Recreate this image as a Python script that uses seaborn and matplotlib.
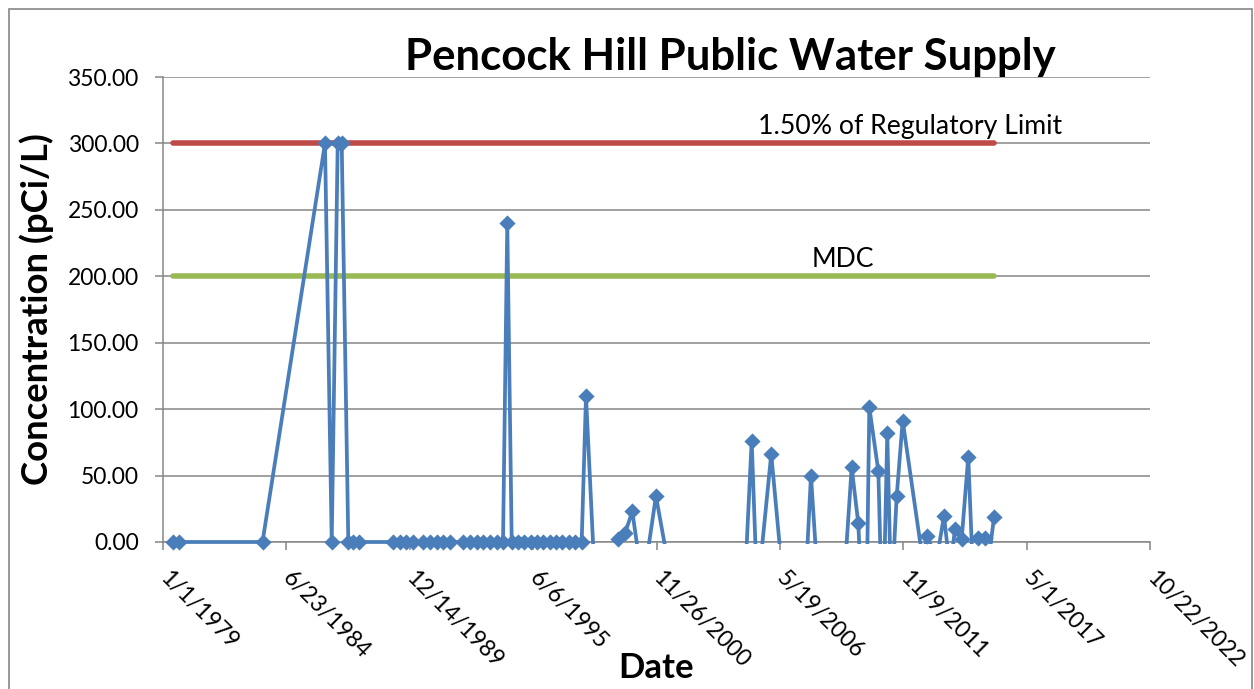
import matplotlib
matplotlib.use("Agg")
import matplotlib.pyplot as plt
import seaborn as sns
import pandas as pd
import numpy as np
from matplotlib.patches import Rectangle
from matplotlib.ticker import FormatStrFormatter

# Sample dates and measured concentrations (pCi/L)
sample_dates = [
    "1979-06-07", "1979-09-22", "1983-06-02", "1986-03-11", "1986-06-28",
    "1986-10-03", "1986-12-07", "1987-03-24", "1987-06-13", "1987-09-18",
    "1989-03-18", "1989-07-01", "1989-10-14", "1990-01-31", "1990-07-22",
    "1990-11-07", "1991-02-24", "1991-06-11", "1991-09-28", "1992-04-30",
    "1992-08-17", "1992-12-03", "1993-03-20", "1993-07-07", "1993-10-23",
    "1994-02-03", "1994-04-13", "1994-06-24", "1994-10-04", "1995-01-17",
    "1995-05-03", "1995-08-08", "1995-11-21", "1996-03-06", "1996-06-11",
    "1996-09-24", "1997-01-08", "1997-04-15", "1997-08-01", "1997-10-10",
    "1998-03-29", "1999-03-18", "1999-07-04", "1999-10-31", "2000-04-19",
    "2000-11-17", "2001-07-03", "2002-05-23", "2003-05-15", "2004-09-28",
    "2005-02-16", "2005-05-17", "2005-12-30", "2006-07-09", "2007-06-30",
    "2007-10-05", "2008-02-12", "2009-03-07", "2009-07-26", "2009-11-10",
    "2009-12-24", "2010-03-31", "2010-05-08", "2010-10-01", "2010-11-22",
    "2011-01-01", "2011-02-23", "2011-04-29", "2011-07-26", "2011-10-31",
    "2012-09-24", "2012-11-23", "2013-05-09", "2013-08-30", "2013-12-05",
    "2014-02-25", "2014-06-13", "2014-09-28", "2014-12-30", "2015-03-09",
    "2015-06-26", "2015-08-22", "2015-11-19",
]
concentrations = [
    0, 0, 0, 300, 0,
    300, 300, 0, 0, 0,
    0, 0, 0, 0, 0,
    0, 0, 0, 0, 0,
    0, 0, 0, 0, 0,
    0, 240, 0, 0, 0,
    0, 0, 0, 0, 0,
    0, 0, 0, 0, 110,
    -55, 2.3, 6.5, 23, -33,
    34.6, -24, -35, -18, -60,
    76.3, -40, 66.2, -30, -40,
    50, -43, -42, 56.2, 14,
    -30, -25, 101.4, 53.4, -40,
    -30, 81.8, -45, 34.6, 91.3,
    -15, 4.5, -12, 19.6, -20,
    9.5, 2, 64.2, -45, 2.8,
    2.8, -15, 18.6,
]

# Reference levels drawn over the sampling period
reg_limit = [300, 300]
mdc_level = [200, 200]
reg_label = "1.50% of Regulatory Limit"
mdc_label = "MDC"

# Date axis ticks: every 2000 days from 1/1/1979
tick_dates = pd.date_range("1979-01-01", periods=9, freq="2000D")
tick_labels = [f"{d.month}/{d.day}/{d.year}" for d in tick_dates]
y_ticks = np.arange(0, 351, 50)

BLUE = "#4A7EBB"
RED = "#BE4B48"
GREEN = "#98B954"
GRID = "#868686"

sns.set_theme(style="white")
plt.rcParams["font.family"] = ["Lato", "DejaVu Sans"]
plt.rcParams["text.color"] = "black"
plt.rcParams["axes.labelcolor"] = "black"

W, H = 1254, 689
fig = plt.figure(figsize=(W / 100, H / 100), dpi=100)
ax = fig.add_axes([163 / W, 1 - 542 / H, 987 / W, 465 / H])

df = pd.DataFrame({"Date": pd.to_datetime(sample_dates),
                   "Concentration": concentrations})
span = pd.to_datetime([sample_dates[0], sample_dates[-1]])
levels = pd.DataFrame({"Date": span, "Limit": reg_limit, "MDC": mdc_level})

# Reference level lines
sns.lineplot(data=levels, x="Date", y="Limit", color=RED, lw=4.0, ax=ax,
             zorder=3, solid_capstyle="round")
sns.lineplot(data=levels, x="Date", y="MDC", color=GREEN, lw=4.0, ax=ax,
             zorder=3, solid_capstyle="round")

# Measurement series: line clipped just below the zero axis
sns.lineplot(data=df, x="Date", y="Concentration", color=BLUE, lw=2.7,
             ax=ax, zorder=4, estimator=None, sort=False)
series_line = ax.lines[-1]
series_line.set_clip_path(Rectangle((0, -0.004), 1, 1.004,
                                    transform=ax.transAxes))

visible = df[df["Concentration"] >= 0]
sns.scatterplot(data=visible, x="Date", y="Concentration", marker="D", s=68,
                color=BLUE, edgecolor=BLUE, linewidth=0, ax=ax, zorder=5,
                clip_on=False)

# Level labels
ax.annotate(reg_label, xy=(pd.Timestamp("2012-02-27"), reg_limit[0]),
            xytext=(0, 3), textcoords="offset points", ha="center",
            va="bottom", fontsize=19.2)
ax.annotate(mdc_label, xy=(pd.Timestamp("2009-03-07"), mdc_level[0]),
            xytext=(0, 3), textcoords="offset points", ha="center",
            va="bottom", fontsize=19.2)

# Axes styling
ax.set_xlim(tick_dates[0], tick_dates[-1])
ax.set_ylim(0, 350)
ax.set_yticks(y_ticks)
ax.yaxis.set_major_formatter(FormatStrFormatter("%.2f"))
ax.set_xticks(tick_dates)
ax.set_xticklabels(tick_labels, rotation=-45, ha="left", va="center",
                   rotation_mode="anchor")
ax.yaxis.grid(True, color=GRID, lw=1.1)
ax.xaxis.grid(False)
ax.set_axisbelow(True)
for side in ("top", "right"):
    ax.spines[side].set_visible(False)
for side in ("left", "bottom"):
    ax.spines[side].set_color(GRID)
    ax.spines[side].set_linewidth(1.1)
ax.tick_params(axis="both", which="major", direction="out", length=5.5,
               width=1.1, color=GRID, labelsize=16.5, labelcolor="black",
               bottom=True, left=True)
ax.tick_params(axis="x", pad=18)
ax.tick_params(axis="y", pad=12)

ax.set_xlabel("Date", fontsize=25, fontweight="bold")
ax.set_ylabel("Concentration (pCi/L)", fontsize=26.3, fontweight="bold")
ax.xaxis.set_label_coords(0.5, -0.237)
ax.yaxis.set_label_coords(-0.11, 0.5)

fig.text(730 / W, 1 - 70 / H, "Pencock Hill Public Water Supply",
         ha="center", va="baseline", fontsize=31.5, fontweight="bold")

# Chart border
fig.patches.append(Rectangle((8.5 / W, -0.05), (1252 - 8.5) / W,
                             1.05 - 8.5 / H, transform=fig.transFigure,
                             fill=False, edgecolor=GRID, lw=1.2))

fig.savefig("out.png", dpi=100)
